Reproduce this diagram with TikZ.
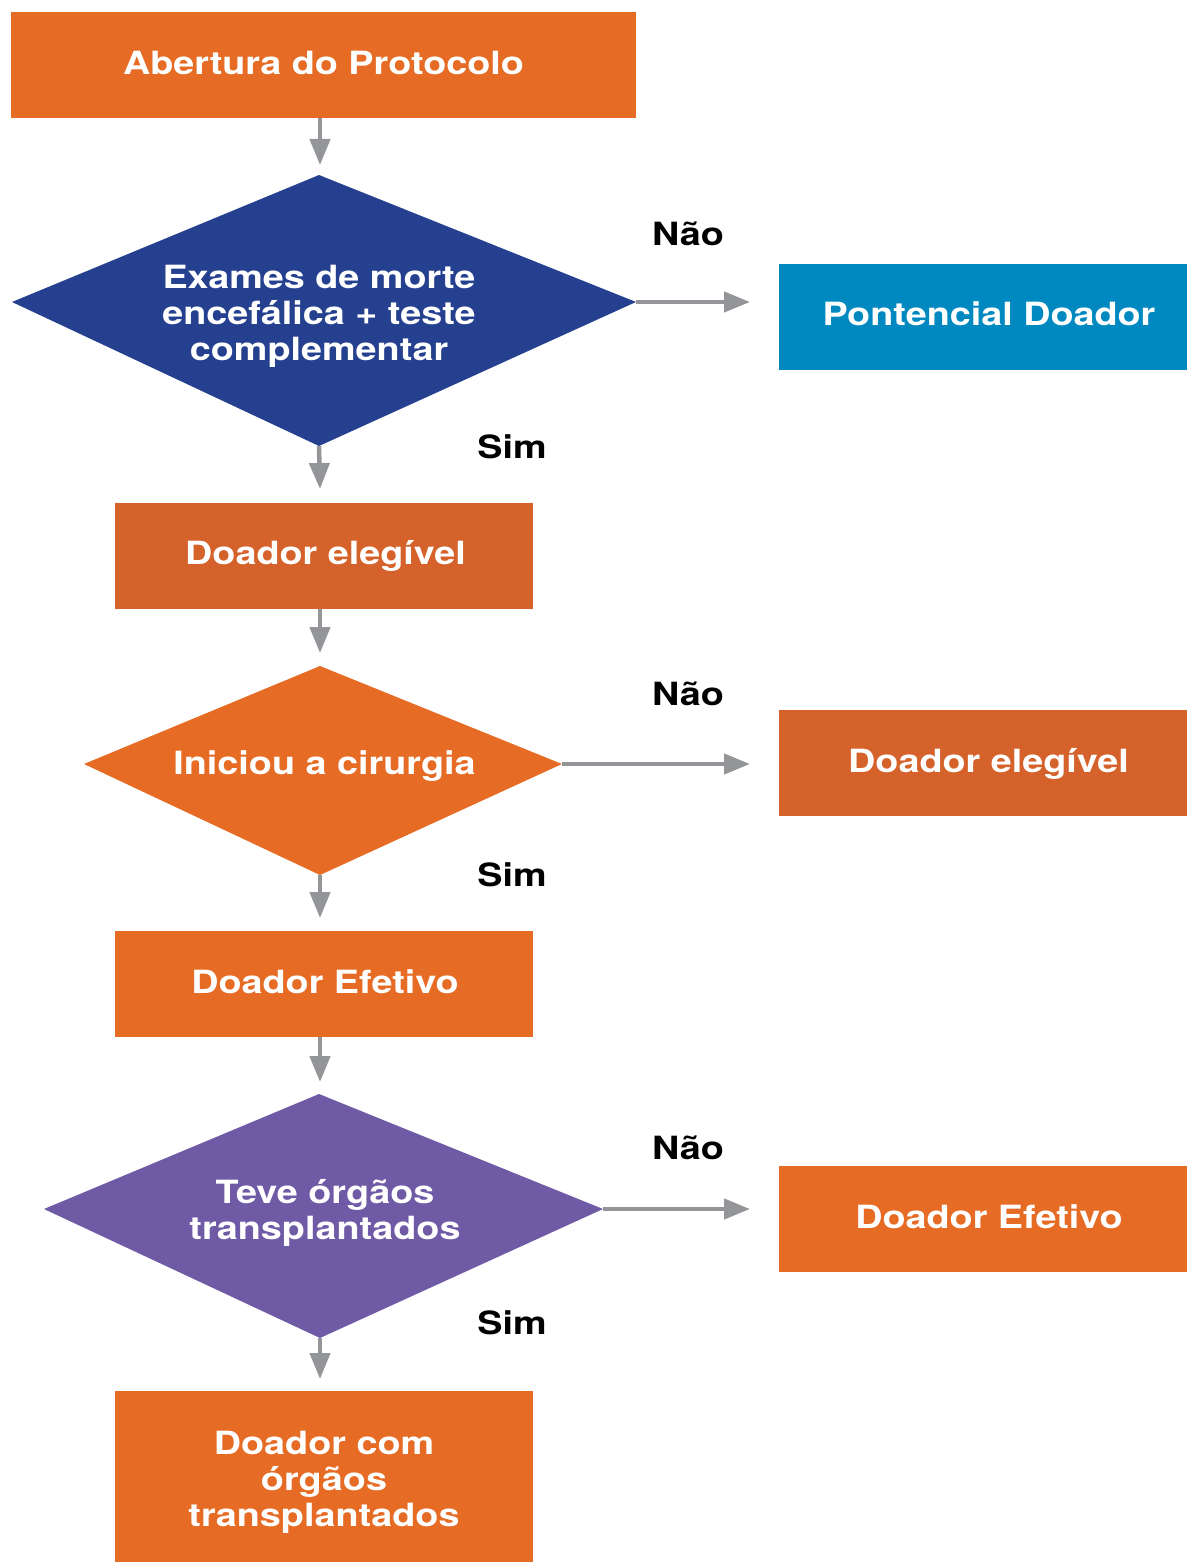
\documentclass[tikz,border=0pt]{standalone}
\usepackage{fontspec}
\setmainfont[FakeStretch=1.18]{TeX Gyre Heros}
\usetikzlibrary{arrows.meta}
\definecolor{corange}{HTML}{E66C25}
\definecolor{cdorange}{HTML}{D4622A}
\definecolor{cblue}{HTML}{25408F}
\definecolor{ccyan}{HTML}{0089C0}
\definecolor{cpurple}{HTML}{6F5AA6}
\definecolor{cgray}{HTML}{939598}
\begin{document}
\begin{tikzpicture}[x=1pt,y=-1pt,
  box/.style={rectangle, inner sep=0pt, minimum height=106pt, text=white,
    font=\fontsize{32}{36}\selectfont\bfseries, align=center},
  dtext/.style={inner sep=0pt, text=white, font=\fontsize{32}{36}\selectfont\bfseries, align=center},
  lbl/.style={inner sep=0pt, text=black, font=\fontsize{32}{36}\selectfont\bfseries},
  arr/.style={draw=cgray, line width=4.5pt, -{Triangle[length=26pt,width=20pt]}}]
\useasboundingbox (0,0) rectangle (1187,1562);

% Box 1
\node[box, fill=corange, minimum width=625pt] (b1) at (323.5,65) {};
\node[dtext] (t1) at (323.5,63) {Abertura do Protocolo};

% Diamond 1
\coordinate (d1t) at (319,175);
\coordinate (d1l) at (12,302);
\coordinate (d1r) at (636,302);
\coordinate (d1b) at (319,446);
\fill[cblue] (d1t) -- (d1r) -- (d1b) -- (d1l) -- cycle;
\node[dtext] (t2) at (319,316) {Exames de morte\\encefálica + teste\\complementar};

% right box 1
\node[box, fill=ccyan, minimum width=408pt] (r1) at (983,317) {};
\node[dtext] (tr1) at (989,314) {Pontencial Doador};

% Box 2
\node[box, fill=cdorange, minimum width=418pt] (b2) at (324,556) {};
\node[dtext] (tb2) at (325.5,556) {Doador elegível};

% Diamond 2
\coordinate (d2t) at (320,666);
\coordinate (d2l) at (84,764);
\coordinate (d2r) at (562,764);
\coordinate (d2b) at (320,875);
\fill[corange] (d2t) -- (d2r) -- (d2b) -- (d2l) -- cycle;
\node[dtext] (t3) at (324.5,766) {Iniciou a cirurgia};

% right box 2
\node[box, fill=cdorange, minimum width=408pt] (r2) at (983,763) {};
\node[dtext] (tr2) at (988.5,764) {Doador elegível};

% Box 3
\node[box, fill=corange, minimum width=418pt] (b3) at (324,984) {};
\node[dtext] (tb3) at (325,982) {Doador Efetivo};

% Diamond 3
\coordinate (d3t) at (319,1094);
\coordinate (d3l) at (44,1209);
\coordinate (d3r) at (603,1209);
\coordinate (d3b) at (320,1338);
\fill[cpurple] (d3t) -- (d3r) -- (d3b) -- (d3l) -- cycle;
\node[dtext] (t4) at (325,1213) {Teve órgãos\\transplantados};

% right box 3
\node[box, fill=corange, minimum width=408pt] (r3) at (983,1219) {};
\node[dtext] (tr3) at (989,1217) {Doador Efetivo};

% Box 4
\node[box, fill=corange, minimum width=418pt, minimum height=171pt] (b4) at (324,1476.5) {};
\node[dtext] (tb4) at (324,1482) {Doador com\\órgãos\\transplantados};

% labels
\node[lbl] (n1) at (688,234) {Não};
\node[lbl] (n2) at (688,694) {Não};
\node[lbl] (n3) at (688,1148) {Não};
\node[lbl] (s1) at (512,447) {Sim};
\node[lbl] (s2) at (512,875) {Sim};
\node[lbl] (s3) at (512,1323) {Sim};

% arrow end points
\coordinate (a1) at (320,165);
\coordinate (a2) at (320,489);
\coordinate (a3) at (320,653);
\coordinate (a4) at (320,918);
\coordinate (a5) at (320,1082);
\coordinate (a6) at (320,1379);
\coordinate (h1) at (750,302);
\coordinate (h2) at (750,764);
\coordinate (h3) at (750,1209);

% connectors
\draw[arr] (a1 |- b1.south) -- (a1);
\draw[arr] (d1b) -- (a2);
\draw[arr] (a3 |- b2.south) -- (a3);
\draw[arr] (d2b) -- (a4);
\draw[arr] (a5 |- b3.south) -- (a5);
\draw[arr] (d3b) -- (a6);
\draw[arr] (d1r) -- (h1);
\draw[arr] (d2r) -- (h2);
\draw[arr] (d3r) -- (h3);
\end{tikzpicture}
\end{document}
